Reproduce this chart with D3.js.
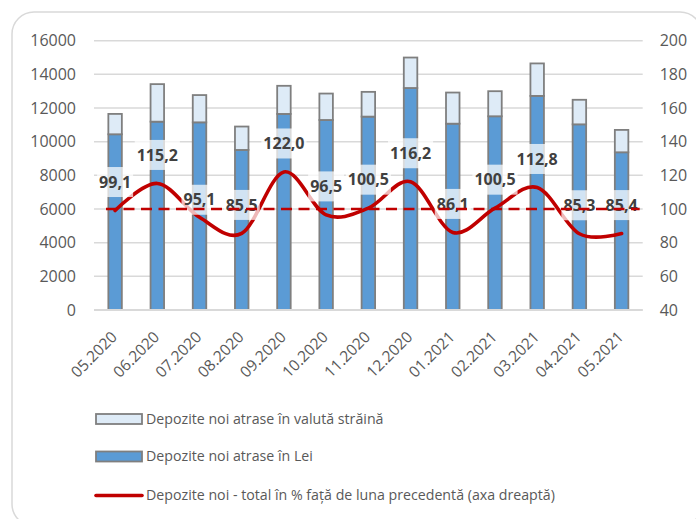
<!DOCTYPE html>
<html>
<head>
<meta charset="utf-8">
<script src="https://cdn.jsdelivr.net/npm/d3@7"></script>
<style>
  html, body { margin: 0; padding: 0; background: #ffffff; }
  svg { display: block; font-family: "Open Sans", "Noto Sans", sans-serif; }
</style>
</head>
<body>
<svg id="chart" width="696" height="519"></svg>
<script>
// ---- Data ----
const months = ["05.2020","06.2020","07.2020","08.2020","09.2020","10.2020","11.2020","12.2020","01.2021","02.2021","03.2021","04.2021","05.2021"];
const leiDeposits = [10440, 11190, 11150, 9510, 11650, 11290, 11490, 13190, 11070, 11510, 12720, 11030, 9370];
const foreignDeposits = [1210, 2230, 1620, 1390, 1670, 1570, 1470, 1810, 1850, 1490, 1930, 1460, 1330];
const totalPct = [99.1, 115.2, 95.1, 85.5, 122.0, 96.5, 100.5, 116.2, 86.1, 100.5, 112.8, 85.3, 85.4];
const leftTicks = [0, 2000, 4000, 6000, 8000, 10000, 12000, 14000, 16000];
const rightTicks = [40, 60, 80, 100, 120, 140, 160, 180, 200];
const referenceLevel = 100;
const seriesNames = [
  "Depozite noi atrase în valută străină",
  "Depozite noi atrase în Lei",
  "Depozite noi - total în % față de luna precedentă (axa dreaptă)"
];

// ---- Layout ----
const svg = d3.select("#chart");
const plot = { left: 94, right: 642.7, top: 40.7, bottom: 310 };
const colors = { lei: "#5b9bd5", foreign: "#deebf7", barStroke: "#7f7f7f", line: "#c00000", grid: "#d9d9d9", text: "#595959", label: "#404040" };

// outer rounded border
svg.append("rect")
  .attr("x", 12).attr("y", 12).attr("width", 690).attr("height", 514)
  .attr("rx", 22).attr("ry", 22)
  .attr("fill", "#ffffff").attr("stroke", colors.grid).attr("stroke-width", 1.5);

const x = d3.scaleBand().domain(months).range([plot.left, plot.right]).padding(0);
const yL = d3.scaleLinear().domain([0, 16000]).range([plot.bottom, plot.top]);
const yR = d3.scaleLinear().domain([40, 200]).range([plot.bottom, plot.top]);

// gridlines
svg.append("g").selectAll("line").data(leftTicks).join("line")
  .attr("x1", plot.left).attr("x2", plot.right)
  .attr("y1", d => yL(d)).attr("y2", d => yL(d))
  .attr("stroke", colors.grid).attr("stroke-width", 1.5);

// left axis
const axL = svg.append("g").attr("transform", `translate(${plot.left - 18},0)`)
  .call(d3.axisLeft(yL).tickValues(leftTicks).tickSize(0).tickPadding(0).tickFormat(d3.format("d")));
axL.select(".domain").remove();
axL.selectAll("text").attr("fill", colors.text).style("font-size", "16px").style("font-family", "'Open Sans', sans-serif");

// right axis
const axR = svg.append("g").attr("transform", `translate(${plot.right + 17},0)`)
  .call(d3.axisRight(yR).tickValues(rightTicks).tickSize(0).tickPadding(0).tickFormat(d3.format("d")));
axR.select(".domain").remove();
axR.selectAll("text").attr("fill", colors.text).style("font-size", "16px").style("font-family", "'Open Sans', sans-serif");

// bottom axis labels
const axB = svg.append("g").attr("transform", `translate(0,${plot.bottom})`)
  .call(d3.axisBottom(x).tickSize(0).tickPadding(0));
axB.select(".domain").remove();
axB.selectAll("text")
  .attr("fill", colors.text).style("font-size", "15.5px").style("font-family", "'Open Sans', sans-serif")
  .attr("text-anchor", "end")
  .attr("dy", "0")
  .attr("transform", "translate(3,28) rotate(-45)");

// bars
const bw = x.bandwidth() * 0.32;
const stacked = months.map((m, i) => ({ m, lei: leiDeposits[i], foreign: foreignDeposits[i] }));
const bars = svg.append("g");
bars.selectAll("rect.lei").data(stacked).join("rect")
  .attr("class", "lei")
  .attr("x", d => x(d.m) + x.bandwidth() / 2 - bw / 2)
  .attr("width", bw)
  .attr("y", d => yL(d.lei))
  .attr("height", d => yL(0) - yL(d.lei))
  .attr("fill", colors.lei).attr("stroke", colors.barStroke).attr("stroke-width", 1.8);
bars.selectAll("rect.foreign").data(stacked).join("rect")
  .attr("class", "foreign")
  .attr("x", d => x(d.m) + x.bandwidth() / 2 - bw / 2)
  .attr("width", bw)
  .attr("y", d => yL(d.lei + d.foreign))
  .attr("height", d => yL(d.lei) - yL(d.lei + d.foreign))
  .attr("fill", colors.foreign).attr("stroke", colors.barStroke).attr("stroke-width", 1.8);

// baseline axis line
svg.append("line").attr("x1", plot.left).attr("x2", plot.right)
  .attr("y1", plot.bottom).attr("y2", plot.bottom)
  .attr("stroke", colors.grid).attr("stroke-width", 1.8);

// smooth line
const pts = months.map((m, i) => [x(m) + x.bandwidth() / 2, yR(totalPct[i])]);
svg.append("path")
  .attr("d", d3.line().curve(d3.curveCatmullRom.alpha(0))(pts))
  .attr("fill", "none").attr("stroke", colors.line).attr("stroke-width", 3.6)
  .attr("stroke-linecap", "round");

// data labels
const fmt = v => d3.format(".1f")(v).replace(".", ",");
const labels = svg.append("g");
months.forEach((m, i) => {
  const cx = pts[i][0];
  const cy = pts[i][1] - 28.5 + (i === 2 ? 11 : 0);
  const g = labels.append("g");
  const t = g.append("text")
    .attr("x", cx).attr("y", cy).attr("dy", "0.35em")
    .attr("text-anchor", "middle")
    .attr("fill", colors.label)
    .style("font-size", "16px").style("font-weight", "bold")
    .text(fmt(totalPct[i]));
  const bb = t.node().getBBox();
  g.insert("rect", "text")
    .attr("x", bb.x - 2).attr("width", bb.width + 4)
    .attr("y", cy - 15).attr("height", 30)
    .attr("fill", "#ffffff").attr("fill-opacity", 0.72);
});

// dashed reference line at 100 (right axis)
svg.append("line")
  .attr("x1", plot.left + 12).attr("x2", plot.right - 3)
  .attr("y1", yR(referenceLevel)).attr("y2", yR(referenceLevel))
  .attr("stroke", colors.line).attr("stroke-width", 2.6)
  .attr("stroke-dasharray", "11,6.5");

// legend
const legend = svg.append("g");
const legRows = [419, 456.5, 495.5];
const lx = 96, lw = 46;
legend.append("rect").attr("x", lx).attr("y", legRows[0] - 5).attr("width", lw).attr("height", 10)
  .attr("fill", colors.foreign).attr("stroke", colors.barStroke).attr("stroke-width", 1.8);
legend.append("rect").attr("x", lx).attr("y", legRows[1] - 5).attr("width", lw).attr("height", 10)
  .attr("fill", colors.lei).attr("stroke", colors.barStroke).attr("stroke-width", 1.8);
legend.append("line").attr("x1", lx).attr("x2", lx + lw).attr("y1", legRows[2]).attr("y2", legRows[2])
  .attr("stroke", colors.line).attr("stroke-width", 3.6).attr("stroke-linecap", "round");
seriesNames.forEach((s, i) => {
  legend.append("text").attr("x", lx + lw + 4).attr("y", legRows[i]).attr("dy", "0.35em")
    .attr("fill", colors.text).style("font-size", "14.2px").text(s);
});
</script>
</body>
</html>
